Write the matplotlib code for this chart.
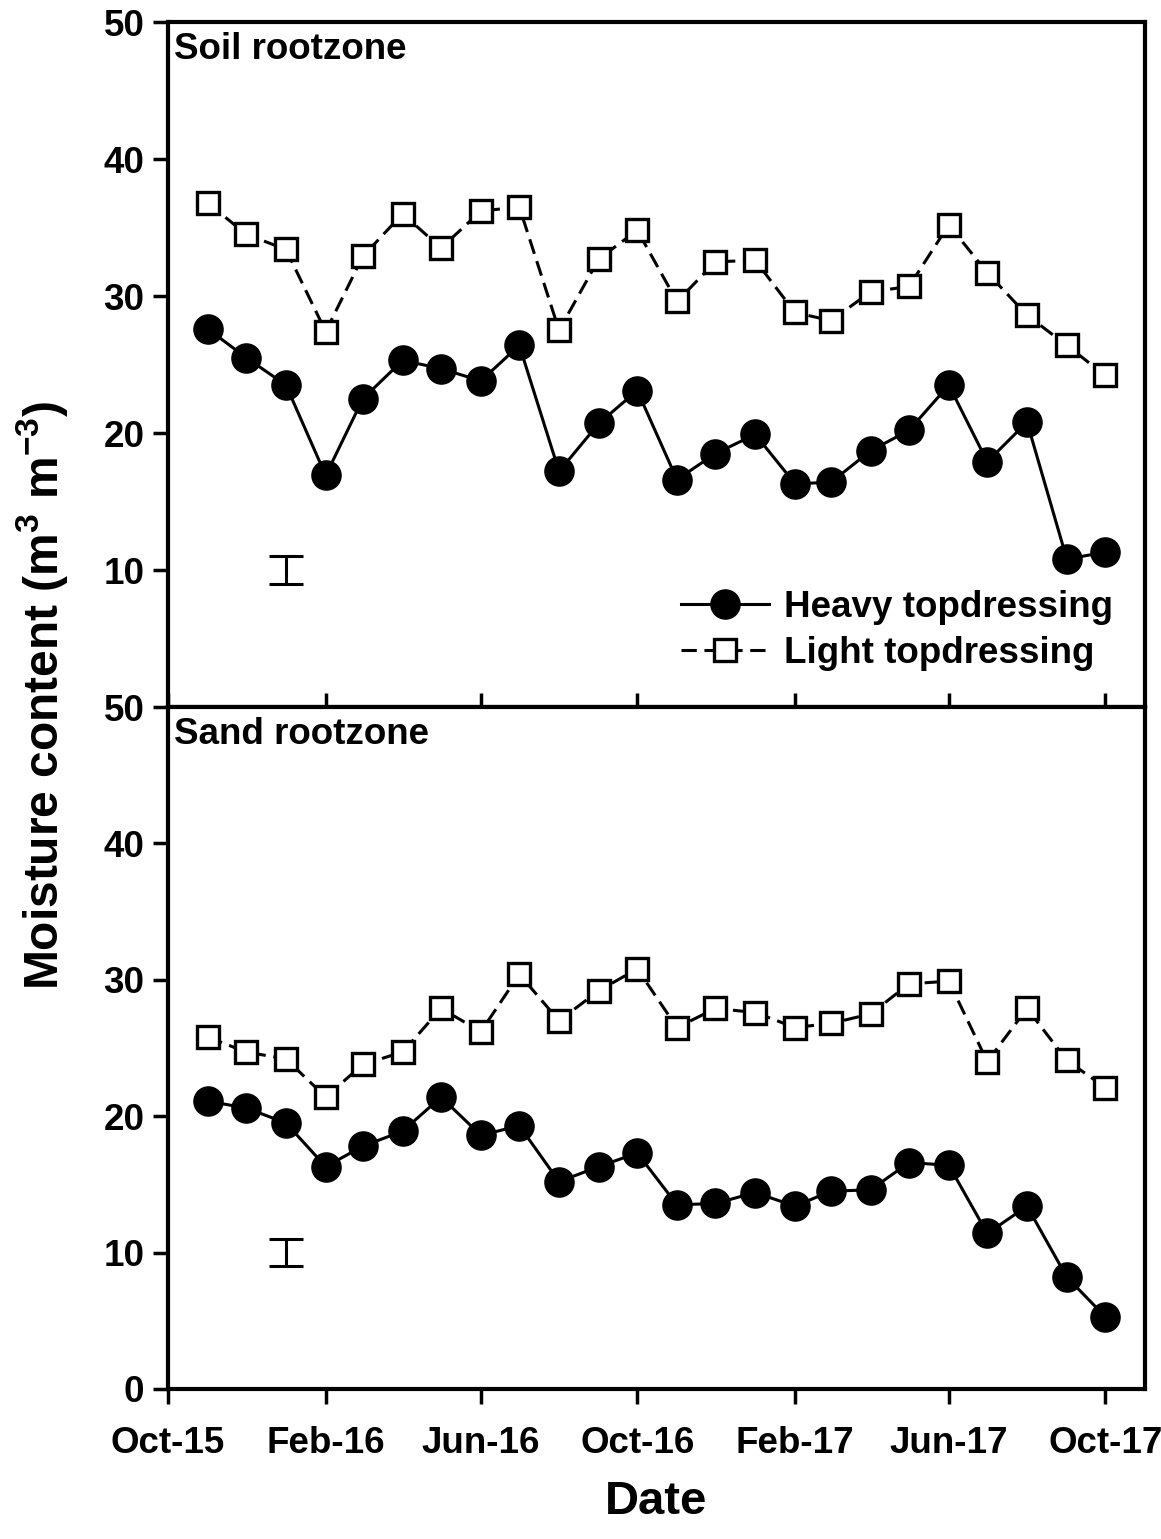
import datetime as dt
import matplotlib
matplotlib.use("Agg")
import matplotlib.pyplot as plt
import matplotlib.dates as mdates

plt.rcParams["font.family"] = ["Liberation Sans", "DejaVu Sans"]
plt.rcParams["font.weight"] = "bold"
plt.rcParams["mathtext.fontset"] = "custom"
plt.rcParams["mathtext.bf"] = "Liberation Sans:bold"
plt.rcParams["mathtext.rm"] = "Liberation Sans:bold"

# monthly sampling dates, Nov-15 .. Oct-17
dates = [dt.date(2015 + (10 + i) // 12, (10 + i) % 12 + 1, 1) for i in range(24)]

soil_heavy = [27.6, 25.5, 23.5, 16.9, 22.5, 25.3, 24.7, 23.8, 26.4, 17.2, 20.7, 23.1,
              16.6, 18.5, 19.9, 16.3, 16.4, 18.7, 20.2, 23.5, 17.9, 20.8, 10.8, 11.3]
soil_light = [36.8, 34.5, 33.4, 27.4, 32.9, 36.0, 33.5, 36.2, 36.5, 27.5, 32.7, 34.8,
              29.6, 32.5, 32.6, 28.8, 28.2, 30.3, 30.7, 35.2, 31.7, 28.6, 26.4, 24.2]
sand_heavy = [21.1, 20.6, 19.5, 16.3, 17.8, 18.9, 21.4, 18.6, 19.3, 15.2, 16.3, 17.3,
              13.5, 13.6, 14.4, 13.4, 14.5, 14.6, 16.6, 16.4, 11.4, 13.4, 8.2, 5.3]
sand_light = [25.8, 24.7, 24.2, 21.4, 23.8, 24.7, 27.9, 26.2, 30.4, 27.0, 29.2, 30.8,
              26.5, 27.9, 27.6, 26.5, 26.8, 27.5, 29.7, 29.9, 24.0, 27.9, 24.1, 22.1]

# LSD bars
lsd_date = dt.date(2016, 1, 1)
lsd_center = 10
lsd_half = 1.0

panels = [("Soil rootzone", soil_heavy, soil_light),
          ("Sand rootzone", sand_heavy, sand_light)]

fig = plt.figure(figsize=(11.61, 15.39), dpi=100)
ax_top = fig.add_axes([0.1447, 0.5406, 0.8415, 0.4451])
ax_bot = fig.add_axes([0.1447, 0.0975, 0.8415, 0.4431], sharex=ax_top)

fs = 26.5
for ax, (title, heavy, light) in zip([ax_top, ax_bot], panels):
    ax.plot(dates, heavy, color="black", lw=2.2, marker="o", ms=21,
            label="Heavy topdressing", zorder=3)
    ax.plot(dates, light, color="black", lw=2.2, dashes=(5, 2.5), marker="s",
            ms=16.5, mfc="white", mec="black", mew=2.4,
            label="Light topdressing", zorder=3)
    ax.errorbar([lsd_date], [lsd_center], yerr=[lsd_half], color="black",
                lw=2.2, capsize=12, capthick=2.2, fmt="none")
    ax.text(0.006, 0.985, title, transform=ax.transAxes, fontsize=fs,
            fontweight="bold", va="top", ha="left")
    ax.set_ylim(0, 50)
    for s in ax.spines.values():
        s.set_linewidth(3)
    ax.tick_params(axis="y", direction="out", length=11, width=2.5,
                   labelsize=fs, pad=6)

ax_top.set_yticks([10, 20, 30, 40, 50])
ax_bot.set_yticks([0, 10, 20, 30, 40, 50])

ax_top.set_xlim(dt.date(2015, 10, 1), dt.date(2017, 11, 1))
ticks = [dt.date(2015, 10, 1), dt.date(2016, 2, 1), dt.date(2016, 6, 1),
         dt.date(2016, 10, 1), dt.date(2017, 2, 1), dt.date(2017, 6, 1),
         dt.date(2017, 10, 1)]
ax_bot.set_xticks(ticks)
ax_bot.xaxis.set_major_formatter(mdates.DateFormatter("%b-%y"))
ax_top.tick_params(axis="x", direction="in", length=10, width=2.5,
                   labelbottom=False)
ax_bot.tick_params(axis="x", direction="out", length=11, width=2.5,
                   labelsize=fs, pad=16)
for lab in ax_bot.get_xticklabels() + ax_bot.get_yticklabels() + ax_top.get_yticklabels():
    lab.set_fontweight("bold")

leg = ax_top.legend(loc="lower right", bbox_to_anchor=(0.99, 0.02),
                    frameon=False, fontsize=fs, handlelength=2.4,
                    handletextpad=0.4, borderpad=0.1, labelspacing=0.3)
for t in leg.get_texts():
    t.set_fontweight("bold")

fig.text(0.036, 0.548, "Moisture content (m$^{\\mathbf{3}}$ m$^{\\mathbf{-3}}$)",
         rotation=90, fontsize=34.5, fontweight="bold", va="center", ha="center")
fig.text(0.565, 0.016, "Date", fontsize=34, fontweight="bold",
         ha="center", va="baseline")

fig.savefig("out.png", dpi=100)
